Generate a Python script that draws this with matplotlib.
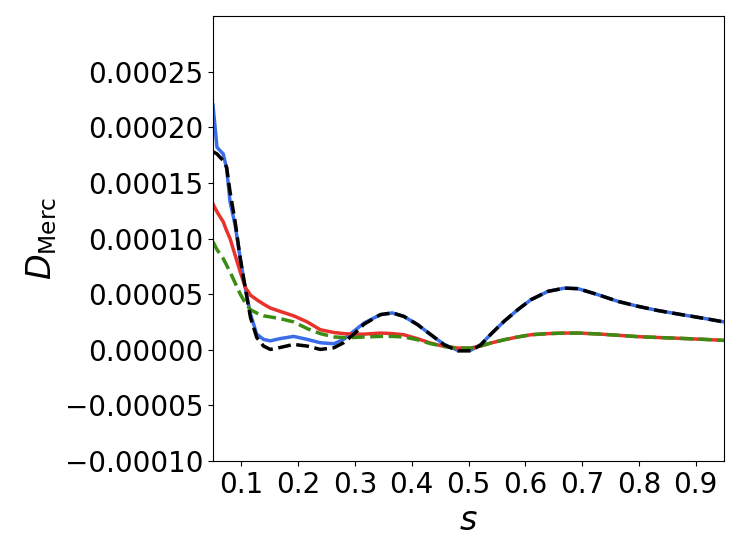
import matplotlib
matplotlib.use("Agg")
import matplotlib.pyplot as plt
import numpy as np

# sample positions s
s = [0.05, 0.057, 0.068, 0.074, 0.08, 0.089, 0.098, 0.107, 0.116, 0.127,
     0.139, 0.151, 0.168, 0.192, 0.216, 0.239, 0.263, 0.28, 0.298, 0.316,
     0.345, 0.366, 0.386, 0.41, 0.433, 0.457, 0.481, 0.504, 0.522, 0.539,
     0.563, 0.587, 0.61, 0.64, 0.669, 0.693, 0.728, 0.763, 0.798, 0.834,
     0.875, 0.916, 0.95]

# values in units of 1e-5
blue = [22.0, 18.2, 17.6, 16.3, 13.3, 11.2, 8.2, 5.5, 3.2, 1.4,
        0.93, 0.8, 1.0, 1.2, 0.93, 0.63, 0.54, 0.93, 1.67, 2.4,
        3.16, 3.31, 3.0, 2.27, 1.38, 0.48, -0.05, -0.05, 0.48, 1.38,
        2.57, 3.61, 4.5, 5.25, 5.54, 5.49, 4.95, 4.35, 3.91, 3.52,
        3.16, 2.81, 2.5]
black = [17.8, 17.6, 17.0, 16.4, 14.2, 11.5, 8.2, 5.5, 2.9, 1.1,
         0.33, 0.03, 0.2, 0.48, 0.33, 0.03, 0.18, 0.63, 1.4, 2.3,
         3.16, 3.31, 3.0, 2.27, 1.38, 0.45, -0.1, -0.1, 0.45, 1.38,
         2.57, 3.61, 4.5, 5.25, 5.54, 5.49, 4.95, 4.35, 3.91, 3.52,
         3.16, 2.81, 2.5]
red = [13.1, 12.4, 11.5, 10.7, 10.0, 8.5, 7.0, 5.6, 4.9, 4.5,
       4.1, 3.75, 3.45, 3.05, 2.5, 1.8, 1.55, 1.45, 1.4, 1.4,
       1.5, 1.45, 1.35, 1.0, 0.6, 0.3, 0.15, 0.15, 0.35, 0.6,
       0.9, 1.15, 1.35, 1.45, 1.5, 1.5, 1.42, 1.3, 1.18, 1.1,
       1.02, 0.93, 0.84]
green = [9.7, 9.0, 8.2, 7.6, 7.0, 6.0, 5.0, 4.2, 3.6, 3.3,
         3.05, 2.95, 2.8, 2.5, 1.9, 1.45, 1.15, 1.1, 1.1, 1.15,
         1.2, 1.2, 1.15, 0.9, 0.55, 0.3, 0.15, 0.15, 0.35, 0.6,
         0.9, 1.15, 1.35, 1.45, 1.5, 1.5, 1.42, 1.3, 1.18, 1.1,
         1.02, 0.93, 0.84]


def scaled(vals):
    '''Back to real units'''
    return np.array(vals) * 1e-5


fig = plt.figure(figsize=(7.41, 5.56), dpi=100)
ax = fig.add_axes([213 / 741, 1 - 461 / 556, 511 / 741, 445 / 556])

ax.plot(s, scaled(blue), color="#3b6ee6", lw=2.5)
ax.plot(s, scaled(red), color="#e8322b", lw=2.5)
ax.plot(s, scaled(green), color="#3a8c12", lw=2.5, ls="--")
ax.plot(s, scaled(black), color="black", lw=2.5, ls="--")

ax.set_xlim(0.05, 0.95)
ax.set_ylim(-0.0001, 0.0003)
ax.set_xticks(np.arange(0.1, 0.95, 0.1))
ax.set_xticklabels([f"{v:.1f}" for v in np.arange(0.1, 0.95, 0.1)])
ax.set_yticks(np.arange(-0.0001, 0.00026, 0.00005))
ax.set_yticklabels([f"{v:.5f}".replace("-", "\u2212") for v in np.arange(-0.0001, 0.00026, 0.00005)])
ax.tick_params(labelsize=20)
ax.set_xlabel("$s$", fontsize=24)
ax.set_ylabel(r"$D_{\mathrm{Merc}}$", fontsize=24)

fig.savefig("out.png", dpi=100)
